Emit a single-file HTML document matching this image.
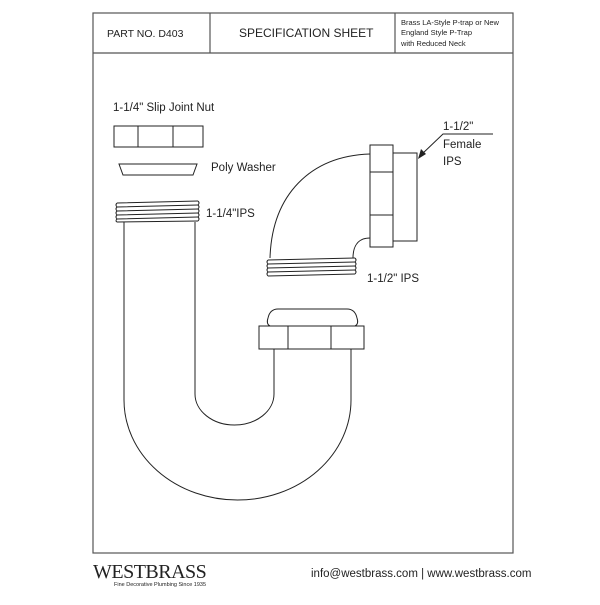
<!DOCTYPE html>
<html><head><style>
body{margin:0;background:#fff;}
svg text{font-family:"Liberation Sans",sans-serif;fill:#222;}
</style></head><body>
<svg width="600" height="600" viewBox="0 0 600 600" xmlns="http://www.w3.org/2000/svg">
<g fill="none" stroke="#555" stroke-width="1.2">
<rect x="93" y="13" width="420" height="540"/>
<line x1="93" y1="53" x2="513" y2="53"/>
<line x1="210" y1="13" x2="210" y2="53"/>
<line x1="395" y1="13" x2="395" y2="53"/>
</g>
<text x="107" y="37" font-size="10.5">PART NO.  D403</text>
<text x="239" y="37" font-size="12">SPECIFICATION SHEET</text>
<text x="401" y="25" font-size="7.5">Brass LA-Style P-trap or New</text>
<text x="401" y="35" font-size="7.5">England  Style P-Trap</text>
<text x="401" y="46" font-size="7.5">with Reduced Neck</text>

<g fill="none" stroke="#222" stroke-width="1">
<rect x="114" y="126" width="89" height="21"/>
<line x1="138" y1="126" x2="138" y2="147"/><line x1="173" y1="126" x2="173" y2="147"/>
<path d="M119 164 L197 164 L193 175 L123 175 Z"/>
<path d="M117 203 L198 201 M117 207 L198 205 M117 211 L198 209 M117 215 L198 213 M117 219 L198 217 M117 222 L198 221"/>
<path d="M117 203 q-2 2 0 4 q-2 2 0 4 q-2 2 0 4 q-2 2 0 4 q-2 2 0 3"/>
<path d="M198 201 q2 2 0 4 q2 2 0 4 q2 2 0 4 q2 2 0 4 q2 2 0 4"/>
<path d="M124 222 L124 400 A113.5 100 0 0 0 351 400 L351 349"/>
<path d="M195 222 L195 394 A39.5 31 0 0 0 274 394 L274 349"/>
<rect x="259" y="326" width="105" height="23"/>
<line x1="288" y1="326" x2="288" y2="349"/><line x1="331" y1="326" x2="331" y2="349"/>
<path d="M270 326 q-4 -2 -2 -8 q2 -9 10 -9 L347 309 q8 0 10 9 q2 6 -2 8"/>
<rect x="370" y="145" width="23" height="102"/>
<line x1="370" y1="172" x2="393" y2="172"/><line x1="370" y1="215" x2="393" y2="215"/>
<rect x="393" y="153" width="24" height="88"/>
<path d="M370 154 C310 156 272 195 270 258"/>
<path d="M370 238 C358 238 353 246 353 258"/>
<path d="M268 260 L355 258 M268 264 L355 262 M268 268 L355 266 M268 272 L355 270 M268 276 L355 274"/>
<path d="M268 260 q-2 2 0 4 q-2 2 0 4 q-2 2 0 4 q-2 2 0 4"/>
<path d="M355 258 q2 2 0 4 q2 2 0 4 q2 2 0 4 q2 2 0 4"/>
<path d="M493 134 L443 134 L421 155"/>
</g>
<path d="M418 159 L421 149 L426 154 Z" fill="#222"/>

<g font-size="11.5">
<text x="113" y="111">1-1/4" Slip Joint Nut</text>
<text x="211" y="171">Poly Washer</text>
<text x="206" y="217">1-1/4"IPS</text>
<text x="443" y="130">1-1/2"</text>
<text x="443" y="148">Female</text>
<text x="443" y="165">IPS</text>
<text x="367" y="282">1-1/2" IPS</text>
</g>
<text x="93" y="578" font-size="20" style="font-family:'Liberation Serif',serif;letter-spacing:-0.5px">WESTBRASS</text>
<text x="114" y="586" font-size="5.5">Fine Decorative Plumbing Since 1935</text>
<text x="311" y="577" font-size="11.5">info@westbrass.com | www.westbrass.com</text>
</svg>
</body></html>
